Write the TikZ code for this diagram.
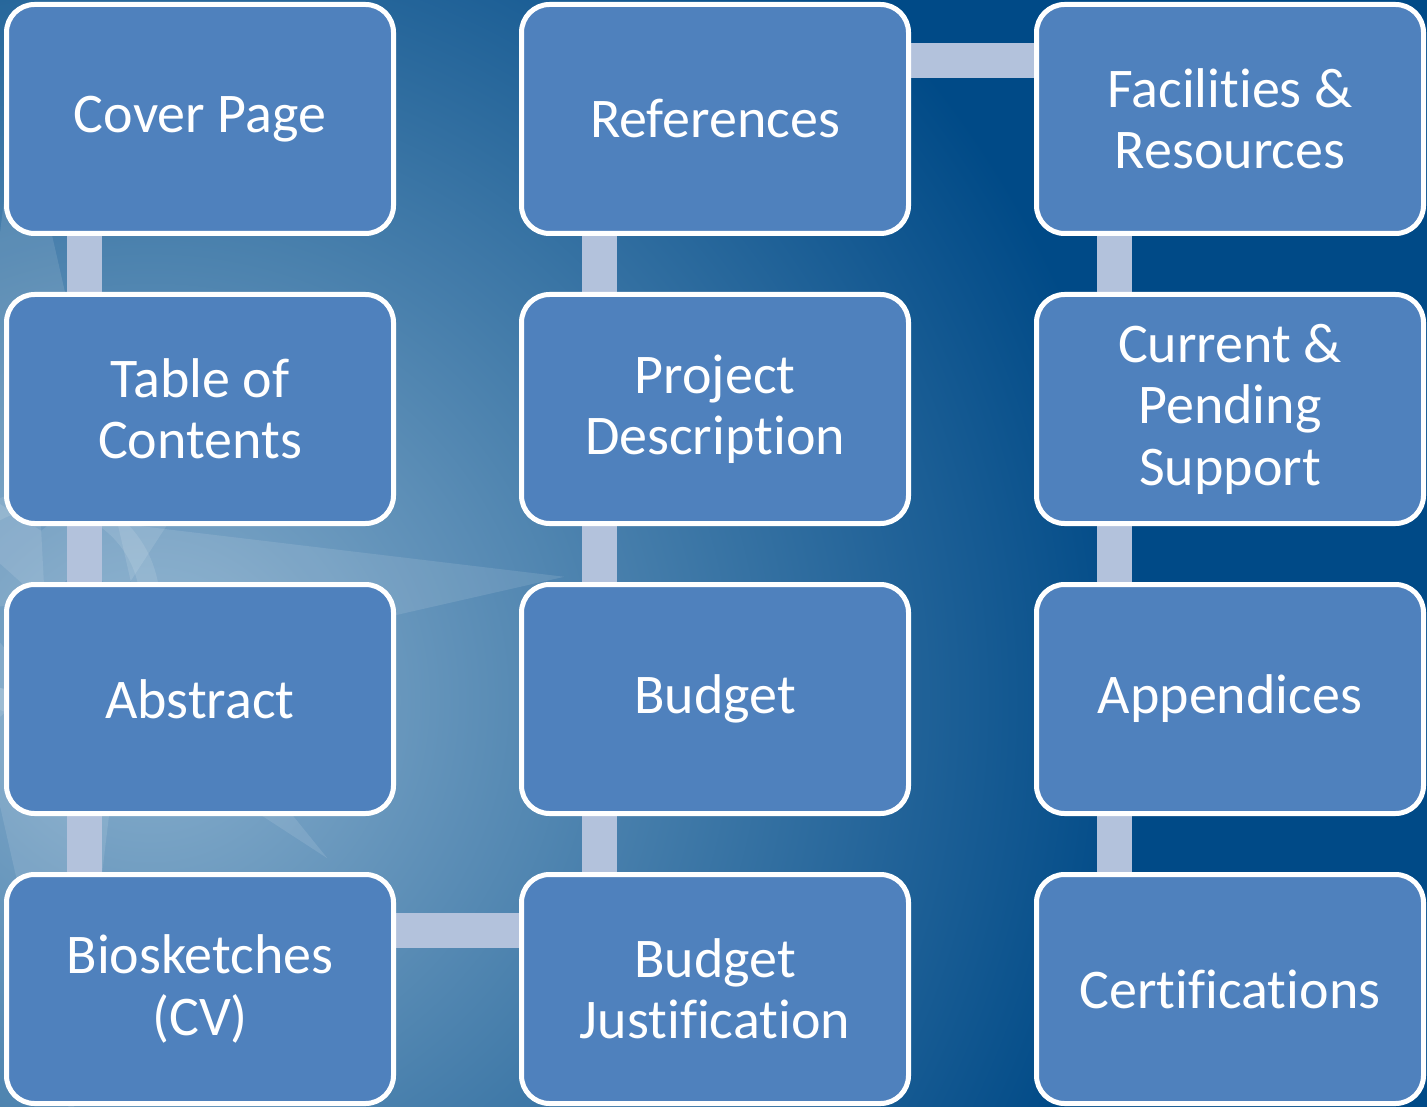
\documentclass[tikz,border=0pt]{standalone}
\usepackage{fontspec}
\setmainfont{Carlito}[RawFeature = {-liga;-clig;-dlig;-calt;-rlig}]
\usepackage{xcolor}
\usepackage{tikz}
\usetikzlibrary{positioning}

\definecolor{boxblue}{HTML}{4F81BD}
\definecolor{linkblue}{HTML}{B3C2DC}
\definecolor{bgdark}{HTML}{004A87}
\definecolor{bglight}{HTML}{8AB0CE}

\pgfdeclarelayer{bg}
\pgfdeclarelayer{links}
\pgfsetlayers{bg,links,main}

\begin{document}
\begin{tikzpicture}[x = 1pt, y = 1pt,
			part/.style = {draw = white, line width = 5pt, fill = boxblue,
				rounded corners = 28pt, minimum width = 387pt, minimum height = 229pt,
				inner sep = 0pt, align = center, text = white,
				font = \fontsize{56}{61.5}\selectfont},
			link/.style = {draw = linkblue, line width = 35pt},
			rose/.style = {fill = white, fill opacity = 0.11}]
			\useasboundingbox (0,0) rectangle (1427,-1107);
			
			% first column
			\node[part] (cover)    at (200,-119) {Cover Page};
			\node[part] (contents) at (200,-409) {Table of\\Contents};
			\node[part] (abstract) at (200,-699) {Abstract};
			\node[part] (bio)      at (200,-989) {Biosketches\\(CV)};
			%
			% second column
			\node[part] (refs)     at (715,-119) {References};
			\node[part] (project)  at (715,-409) {Project\\Description};
			\node[part] (budget)   at (715,-699) {Budget};
			\node[part] (justif)   at (715,-989) {Budget\\Justification};
			%
			% third column
			\node[part] (facil)    at (1230,-119) {Facilities \&\\Resources};
			\node[part] (pending)  at (1230,-409) {Current \&\\Pending\\Support};
			\node[part] (append)   at (1230,-699) {Appendices};
			\node[part] (certif)   at (1230,-989) {Certifications};
			
			\begin{pgfonlayer}{links}
				\draw[link] ([xshift=80.5pt]cover.south west) -- ([xshift=80.5pt]contents.north west);
				\draw[link] ([xshift=80.5pt]contents.south west) -- ([xshift=80.5pt]abstract.north west);
				\draw[link] ([xshift=80.5pt]abstract.south west) -- ([xshift=80.5pt]bio.north west);
				\draw[link] ([yshift=-58.5pt]bio.north east) -- ([yshift=-58.5pt]justif.north west);
				\draw[link] ([xshift=80.5pt]justif.north west) -- ([xshift=80.5pt]budget.south west);
				\draw[link] ([xshift=80.5pt]budget.north west) -- ([xshift=80.5pt]project.south west);
				\draw[link] ([xshift=80.5pt]project.north west) -- ([xshift=80.5pt]refs.south west);
				\draw[link] ([yshift=-58.5pt]refs.north east) -- ([yshift=-58.5pt]facil.north west);
				\draw[link] ([xshift=80.5pt]facil.south west) -- ([xshift=80.5pt]pending.north west);
				\draw[link] ([xshift=80.5pt]pending.south west) -- ([xshift=80.5pt]append.north west);
				\draw[link] ([xshift=80.5pt]append.south west) -- ([xshift=80.5pt]certif.north west);
			\end{pgfonlayer}
			
			\begin{pgfonlayer}{bg}
				\begin{scope}
					\clip (0,0) rectangle (1427,-1107);
					\fill[bgdark] (0,0) rectangle (1427,-1107);
					\shade[inner color = bglight, outer color = bgdark] (150,-700) circle (1000);
					% faint compass
					\begin{scope}[shift = {(45,-604)}, rotate = 3]
						\path[rose] (0,90) -- (520,0) -- (0,-90) -- cycle
						(90,0) -- (0,520) -- (-90,0) -- cycle
						(0,90) -- (-520,0) -- (0,-90) -- cycle
						(90,0) -- (0,-520) -- (-90,0) -- cycle;
						\begin{scope}[rotate = -45]
							\path[rose] (0,60) -- (380,0) -- (0,-60) -- cycle
							(0,60) -- (-380,0) -- (0,-60) -- cycle
							(60,0) -- (0,380) -- (-60,0) -- cycle
							(60,0) -- (0,-380) -- (-60,0) -- cycle;
						\end{scope}
						\draw[white, opacity = 0.11, line width = 20pt] (0,0) circle (105);
					\end{scope}
				\end{scope}
			\end{pgfonlayer}
		\end{tikzpicture}
\end{document}
